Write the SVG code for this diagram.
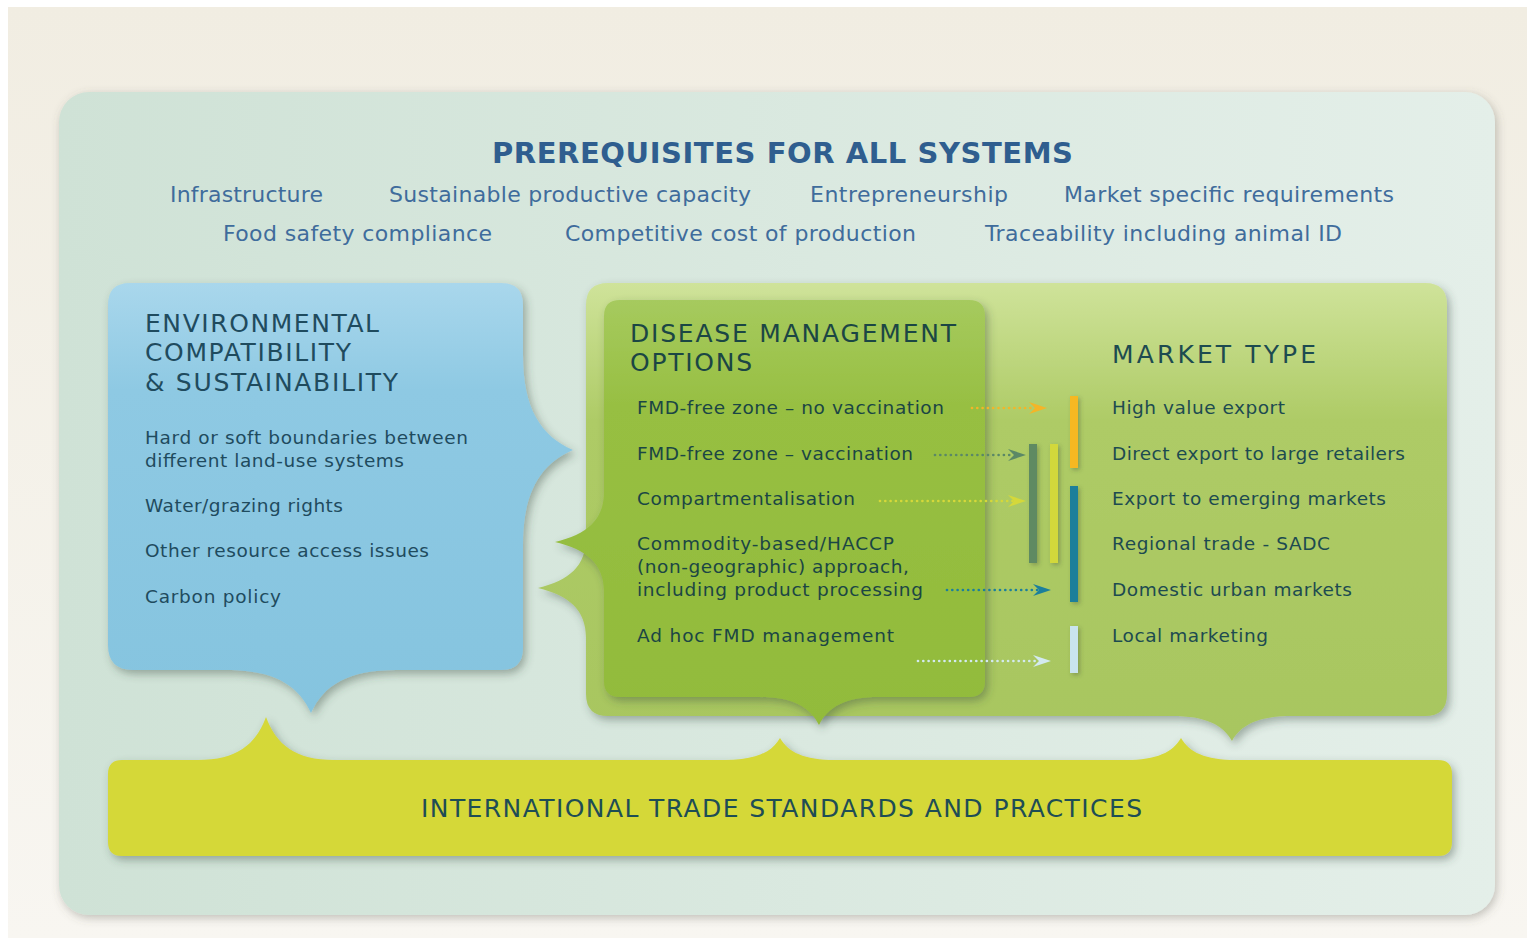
<svg xmlns="http://www.w3.org/2000/svg" xmlns:xlink="http://www.w3.org/1999/xlink" width="1527" height="938" viewBox="0 0 1527 938">
<style>
text{font-family:"DejaVu Sans","Open Sans",sans-serif;}
.title{font-size:29px;font-weight:bold;fill:#2f5e8f;}
.pre{font-size:22px;fill:#3f6c9c;}
.head{font-size:25px;fill:#1f4b5e;}
.body{font-size:18.5px;fill:#1f4b5e;}
.dg{fill:#1b4644;}
.mk{fill:#1d4b50;}
.trade{font-size:25px;fill:#1e4d55;}
.dot{fill:none;stroke-width:2.7;stroke-linecap:round;stroke-dasharray:0 5.3;}
</style>
<defs>
<linearGradient id="bg" x1="0" y1="0" x2="0" y2="1"><stop offset="0" stop-color="#f1ede2"/><stop offset="1" stop-color="#f8f6f1"/></linearGradient>
<linearGradient id="panel" x1="0" y1="0" x2="1" y2="0"><stop offset="0" stop-color="#cfe2d6"/><stop offset="1" stop-color="#e4efe9"/></linearGradient>
<linearGradient id="blue" x1="0" y1="0" x2="0" y2="1"><stop offset="0" stop-color="#a9d7ec"/><stop offset="0.25" stop-color="#8ec9e3"/><stop offset="1" stop-color="#85c4df"/></linearGradient>
<linearGradient id="lg" x1="0" y1="0" x2="0" y2="1"><stop offset="0" stop-color="#cfe39a"/><stop offset="0.3" stop-color="#aecb66"/><stop offset="1" stop-color="#a8c660"/></linearGradient>
<linearGradient id="dgf" x1="0" y1="0" x2="0" y2="1"><stop offset="0" stop-color="#a6ca5e"/><stop offset="0.25" stop-color="#97bf42"/><stop offset="1" stop-color="#92bb3b"/></linearGradient>
<filter id="sh" x="-10%" y="-10%" width="125%" height="130%"><feDropShadow dx="3" dy="4" stdDeviation="4" flood-color="#3a4a40" flood-opacity="0.4"/></filter>
<filter id="shp" x="-5%" y="-5%" width="110%" height="115%"><feDropShadow dx="2" dy="3" stdDeviation="5" flood-color="#5a5a50" flood-opacity="0.35"/></filter>
<filter id="shs" x="-100%" y="-20%" width="300%" height="150%"><feDropShadow dx="2" dy="2" stdDeviation="2" flood-color="#3a4a30" flood-opacity="0.35"/></filter>
<path id="ah" d="M0,0 L-18,-6 L-12,0 L-18,6 Z"/>
</defs>
<g id="background">
<rect x="8" y="7" width="1519" height="931" fill="url(#bg)"/>
<rect x="59" y="92" width="1436" height="823" rx="30" fill="url(#panel)" filter="url(#shp)"/>
</g>
<g id="prerequisites">
<text class="title" x="492" y="163" textLength="581" lengthAdjust="spacing">PREREQUISITES FOR ALL SYSTEMS</text>
<text class="pre" x="170" y="202" textLength="153" lengthAdjust="spacing">Infrastructure</text>
<text class="pre" x="389" y="202" textLength="362" lengthAdjust="spacing">Sustainable productive capacity</text>
<text class="pre" x="810" y="202" textLength="198" lengthAdjust="spacing">Entrepreneurship</text>
<text class="pre" x="1064" y="202" textLength="330" lengthAdjust="spacing">Market specific requirements</text>
<text class="pre" x="223" y="241" textLength="269" lengthAdjust="spacing">Food safety compliance</text>
<text class="pre" x="565" y="241" textLength="351" lengthAdjust="spacing">Competitive cost of production</text>
<text class="pre" x="985" y="241" textLength="357" lengthAdjust="spacing">Traceability including animal ID</text>
</g>
<g id="trade-standards">
<path d="M122,760 H198 C236.1,760 255.8,744.95 266,717 C276.2,744.95 295.9,760 334,760 H725 C755.8,760 771.75,752.3 780,738 C788.25,752.3 804.2,760 835,760 H1126 C1156.8,760 1172.75,752.3 1181,738 C1189.25,752.3 1205.2,760 1236,760 H1438 Q1452,760 1452,774 V842 Q1452,856 1438,856 H122 Q108,856 108,842 V774 Q108,760 122,760 Z" fill="#d5d839" filter="url(#sh)"/>
<text class="trade" x="421" y="817" textLength="721" lengthAdjust="spacing">INTERNATIONAL TRADE STANDARDS AND PRACTICES</text>
</g>
<g id="environmental">
<path d="M130,283 H501 Q523,283 523,305 V355 C523,408.2 540.5,435.75 573,450 C540.5,464.25 523,491.8 523,545 V648 Q523,670 501,670 H396 C348.4,670 323.75,685 311,713 C298.25,685 273.6,670 226,670 H133 Q108,670 108,645 V305 Q108,283 130,283 Z" fill="url(#blue)" filter="url(#sh)"/>
<text class="head" x="145" y="332" textLength="234" lengthAdjust="spacing">ENVIRONMENTAL</text>
<text class="head" x="145" y="361" textLength="206" lengthAdjust="spacing">COMPATIBILITY</text>
<text class="head" x="145" y="391" textLength="253" lengthAdjust="spacing">&amp; SUSTAINABILITY</text>
<text class="body" x="145" y="444" textLength="323" lengthAdjust="spacing">Hard or soft boundaries between</text>
<text class="body" x="145" y="467" textLength="259" lengthAdjust="spacing">different land-use systems</text>
<text class="body" x="145" y="512" textLength="198" lengthAdjust="spacing">Water/grazing rights</text>
<text class="body" x="145" y="557" textLength="284" lengthAdjust="spacing">Other resource access issues</text>
<text class="body" x="145" y="603" textLength="136" lengthAdjust="spacing">Carbon policy</text>
</g>
<g id="market-type">
<path d="M608,283 H1425 Q1447,283 1447,305 V694 Q1447,716 1425,716 H1292 C1258.4,716 1241,724.75 1232,741 C1223,724.75 1205.6,716 1172,716 H608 Q586,716 586,694 V638 C586,610 569.2,595.5 538,588 C569.2,580.5 586,566 586,538 V305 Q586,283 608,283 Z" fill="url(#lg)" filter="url(#sh)"/>
<text class="head mk" x="1112" y="363" textLength="204" lengthAdjust="spacing">MARKET TYPE</text>
<text class="body mk" x="1112" y="414" textLength="173" lengthAdjust="spacing">High value export</text>
<text class="body mk" x="1112" y="460" textLength="293" lengthAdjust="spacing">Direct export to large retailers</text>
<text class="body mk" x="1112" y="505" textLength="274" lengthAdjust="spacing">Export to emerging markets</text>
<text class="body mk" x="1112" y="550" textLength="218" lengthAdjust="spacing">Regional trade - SADC</text>
<text class="body mk" x="1112" y="596" textLength="240" lengthAdjust="spacing">Domestic urban markets</text>
<text class="body mk" x="1112" y="642" textLength="156" lengthAdjust="spacing">Local marketing</text>
</g>
<g id="disease-management">
<path d="M620,300 H969 Q985,300 985,316 V681 Q985,697 969,697 H879 C845.4,697 828,706.8 819,725 C810,706.8 792.6,697 759,697 H620 Q604,697 604,681 V592 C604,564 586.85,549.5 555,542 C586.85,534.5 604,520 604,492 V316 Q604,300 620,300 Z" fill="url(#dgf)" filter="url(#sh)"/>
<text class="head dg" x="630" y="342" textLength="326" lengthAdjust="spacing">DISEASE MANAGEMENT</text>
<text class="head dg" x="630" y="371" textLength="122" lengthAdjust="spacing">OPTIONS</text>
<text class="body dg" x="637" y="414" textLength="307" lengthAdjust="spacing">FMD-free zone – no vaccination</text>
<text class="body dg" x="637" y="460" textLength="276" lengthAdjust="spacing">FMD-free zone – vaccination</text>
<text class="body dg" x="637" y="505" textLength="218" lengthAdjust="spacing">Compartmentalisation</text>
<text class="body dg" x="637" y="550" textLength="257" lengthAdjust="spacing">Commodity-based/HACCP</text>
<text class="body dg" x="637" y="573" textLength="272" lengthAdjust="spacing">(non-geographic) approach,</text>
<text class="body dg" x="637" y="596" textLength="286" lengthAdjust="spacing">including product processing</text>
<text class="body dg" x="637" y="642" textLength="257" lengthAdjust="spacing">Ad hoc FMD management</text>
</g>
<g id="connectors">
<line class="dot" x1="972" y1="408" x2="1035" y2="408" stroke="#f4b528"/>
<use href="#ah" xlink:href="#ah" x="1047" y="408" fill="#f4b528"/>
<line class="dot" x1="935" y1="455" x2="1014" y2="455" stroke="#5b8866"/>
<use href="#ah" xlink:href="#ah" x="1026" y="455" fill="#5b8866"/>
<line class="dot" x1="880" y1="501" x2="1014" y2="501" stroke="#d5d83a"/>
<use href="#ah" xlink:href="#ah" x="1026" y="501" fill="#d5d83a"/>
<line class="dot" x1="947" y1="590" x2="1039" y2="590" stroke="#1b7f9c"/>
<use href="#ah" xlink:href="#ah" x="1051" y="590" fill="#1b7f9c"/>
<line class="dot" x1="918" y1="661" x2="1039" y2="661" stroke="#d3eaf0"/>
<use href="#ah" xlink:href="#ah" x="1051" y="661" fill="#d3eaf0"/>
<g filter="url(#shs)">
<rect x="1070" y="396" width="8" height="72" fill="#f6b821"/>
<rect x="1029" y="444" width="8" height="119" fill="#5e8a62"/>
<rect x="1050" y="444" width="8" height="119" fill="#d2d83a"/>
<rect x="1070" y="486" width="8" height="116" fill="#1a7f9a"/>
<rect x="1070" y="626" width="8" height="47" fill="#c9e4ee"/>
</g>
</g>
</svg>
